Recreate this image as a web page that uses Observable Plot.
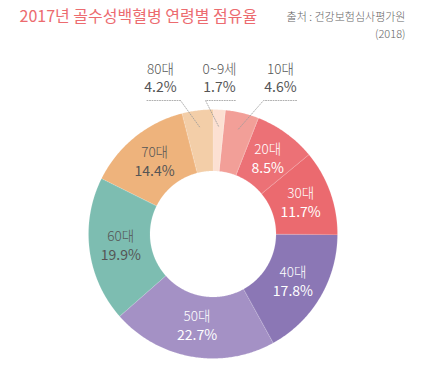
<!DOCTYPE html>
<html><head><meta charset="utf-8">
<script src="https://cdn.jsdelivr.net/npm/d3@7"></script>
<script src="https://cdn.jsdelivr.net/npm/@observablehq/plot@0.6"></script>
<style>
body{margin:0;background:#fff;}
#chart svg{display:block;font-family:"Noto Sans CJK KR","Noto Sans",sans-serif;}
</style>
</head><body><div id="chart"></div>
<script>
// ---- data ----
const categories = ["0~9세","10대","20대","30대","40대","50대","60대","70대","80대"];
const shares = [1.7, 4.6, 8.5, 11.7, 17.8, 22.7, 19.9, 14.4, 4.2];
const sliceColors = ["#fce0d2","#f29f98","#ec7176","#eb6a6f","#8b77b5","#a491c5","#7dbdb1","#eeb37c","#f3cea8"];
const whiteLabelCats = ["20대","30대","40대","50대"];
const darkLabelCats = ["60대","70대"];
const outsideCats = ["80대","0~9세","10대"];
const titleText = "2017년 골수성백혈병 연령별 점유율";
const sourceLines = ["출처 : 건강보험심사평가원", "(2018)"];

// ---- layout ----
const W = 442, H = 372;
const cx = 212.5, cy = 233.5, rIn = 63, rOut = 124.5, rLabel = 93, rLead = 108;
const callout = {
  "80대": {labelX: 160, elbowX: 180, endX: 145},
  "0~9세": {labelX: 219, elbowX: 205, endX: 235},
  "10대": {labelX: 280, elbowX: 263, endX: 297}
};
const calloutLineY = 100, calloutCatY = 69, calloutPctY = 87;

const rows = categories.map((c, i) => ({category: c, share: shares[i]}));
const arcs = d3.pie().sort(null).value(d => d.share)(rows);
const polar = (r, t) => [cx + r * Math.sin(t), cy - r * Math.cos(t)];

const slicePts = [];
for (const a of arcs) {
  const n = Math.max(4, Math.ceil((a.endAngle - a.startAngle) / 0.01));
  for (let k = 0; k <= n; k++) {
    const t = a.startAngle + (a.endAngle - a.startAngle) * k / n;
    const [x, y] = polar(rOut, t);
    slicePts.push({category: a.data.category, x, y});
  }
  for (let k = n; k >= 0; k--) {
    const t = a.startAngle + (a.endAngle - a.startAngle) * k / n;
    const [x, y] = polar(rIn, t);
    slicePts.push({category: a.data.category, x, y});
  }
}

const labels = arcs.map(a => {
  const mid = (a.startAngle + a.endAngle) / 2;
  const [x, y] = polar(rLabel, mid);
  return {category: a.data.category, pct: a.data.share.toFixed(1) + "%", x, y, mid};
});

const leaderPts = [];
for (const a of arcs) {
  const c = callout[a.data.category];
  if (!c) continue;
  const mid = (a.startAngle + a.endAngle) / 2;
  const [x0, y0] = polar(rLead, mid);
  leaderPts.push({category: a.data.category, x: x0, y: y0});
  leaderPts.push({category: a.data.category, x: c.elbowX, y: calloutLineY});
  leaderPts.push({category: a.data.category, x: c.endX, y: calloutLineY});
}
const outsideLabels = labels.filter(d => outsideCats.includes(d.category))
  .map(d => ({...d, lx: callout[d.category].labelX}));

const font = '"Noto Sans CJK KR","Noto Sans",sans-serif';

const chart = Plot.plot({
  width: W, height: H,
  margin: 0,
  x: {domain: [0, W], range: [0, W], axis: null},
  y: {domain: [0, H], range: [0, H], axis: null},
  color: {type: "ordinal", domain: categories, range: sliceColors},
  style: {fontFamily: font, background: "#fff", overflow: "visible"},
  marks: [
    Plot.line(slicePts, {x: "x", y: "y", z: "category", fill: "category", stroke: "#fff", strokeWidth: 0.4, strokeOpacity: 0.35, curve: "linear-closed"}),
    Plot.line(leaderPts, {x: "x", y: "y", z: "category", stroke: "#9a9a9a", strokeWidth: 0.8, strokeDasharray: "1,1.5"}),
    // inside labels
    Plot.text(labels.filter(d => whiteLabelCats.includes(d.category)), {x: "x", y: "y", text: "category", dy: -9, fill: "#fff", fontSize: 13.5, fontWeight: 300}),
    Plot.text(labels.filter(d => whiteLabelCats.includes(d.category)), {x: "x", y: "y", text: "pct", dy: 9.5, fill: "#fff", fontSize: 14, fontWeight: 400}),
    Plot.text(labels.filter(d => darkLabelCats.includes(d.category)), {x: "x", y: "y", text: "category", dy: -9, fill: "#555", fontSize: 13.5, fontWeight: 300}),
    Plot.text(labels.filter(d => darkLabelCats.includes(d.category)), {x: "x", y: "y", text: "pct", dy: 9.5, fill: "#555", fontSize: 14, fontWeight: 400}),
    // outside labels
    Plot.text(outsideLabels, {x: "lx", y: () => calloutCatY, text: "category", fill: "#555", fontSize: 13.5, fontWeight: 300}),
    Plot.text(outsideLabels, {x: "lx", y: () => calloutPctY, text: "pct", fill: "#555", fontSize: 14, fontWeight: 400}),
    // title & source
    Plot.text([titleText], {x: () => 19, y: () => 16, text: d => d, textAnchor: "start", fill: "#ec6b6f", fontSize: 16, fontWeight: 400}),
    Plot.text(sourceLines, {x: () => 405, y: (d, i) => 17 + i * 17, text: d => d, textAnchor: "end", fill: "#666", fontSize: 11, fontWeight: 300})
  ]
});
document.getElementById("chart").append(chart);
</script>
</body></html>
